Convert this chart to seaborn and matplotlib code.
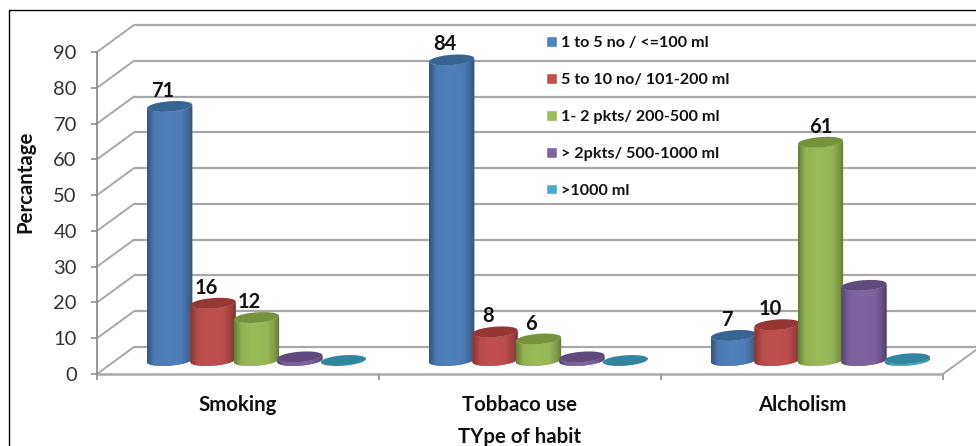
import numpy as np
import pandas as pd
import matplotlib
matplotlib.use("Agg")
import matplotlib.pyplot as plt
from matplotlib.colors import LinearSegmentedColormap, to_rgb
from matplotlib.lines import Line2D
from matplotlib.patches import Polygon
import seaborn as sns

habits = ["Smoking", "Tobbaco use", "Alcholism"]
levels = ["1 to 5 no / <=100 ml", "5 to 10 no/ 101-200 ml", "1- 2 pkts/ 200-500 ml",
          "> 2pkts/ 500-1000 ml", ">1000 ml"]
low_dose = [71, 84, 7]
mid_dose = [16, 8, 10]
high_dose = [12, 6, 61]
heavy_dose = [1, 1, 21]
extreme_dose = [0, 0, 0.5]
labelled_levels = 3
label_shift_px = {(2, 2): 0}
colours = ["#4f81bd", "#c0504d", "#9bbb59", "#8064a2", "#4bacc6"]
top_colours = ["#386494", "#953735", "#76923c", "#5f4a7e", "#31859c"]

W, H = 976, 446
AX_L, AX_R, AX_TOP, AX_BOT = 97, 943, 52, 374
PX_X = (AX_R - AX_L) / 3.0
PX_Y = (AX_BOT - AX_TOP) / 90.0
GRID = "#a8a8a8"
AXIS = "#8c8c8c"

sns.set_theme(style="white")
plt.rcParams["font.family"] = ["Lato", "DejaVu Sans"]

fig = plt.figure(figsize=(W / 100, H / 100), dpi=100)
ax = fig.add_axes([AX_L / W, 1 - AX_BOT / H, (AX_R - AX_L) / W, (AX_BOT - AX_TOP) / H])
ax.patch.set_alpha(0)

table = pd.DataFrame({
    "habit": np.tile(habits, 5),
    "level": np.repeat(levels, 3),
    "value": low_dose + mid_dose + high_dose + heavy_dose + extreme_dose,
})
sns.barplot(data=table, x="habit", y="value", hue="level", order=habits, hue_order=levels,
            palette=colours, width=0.77, errorbar=None, saturation=1, ax=ax)


def dx(px):
    return px / PX_X


def dy(px):
    return px / PX_Y


# Cylinders stand half way into the floor, which is 37 px wide and 27 px tall on screen.
MID_X, MID_Y = dx(18.5), dy(13.5)
BACK_X, BACK_Y = dx(37), dy(27)
HALF_W, HALF_H, TILT = 22.6, 5.2, 0.075


def ring(cx, cy, start, stop):
    t = np.linspace(start, stop, 60)
    x = cx + dx(HALF_W * np.cos(t))
    y = cy + dy(HALF_H * np.sin(t) + TILT * HALF_W * np.cos(t))
    return np.column_stack([x, y])


zorder = 3.0
for lvl, container in enumerate(ax.containers):
    base = np.array(to_rgb(colours[lvl]))
    ramp = LinearSegmentedColormap.from_list("shade", [
        (0.00, base * 0.66), (0.16, base * 0.95), (0.42, base),
        (0.74, base * 0.97), (0.90, base * 0.80), (1.00, base * 0.62)])
    for cat, bar in enumerate(container):
        value = bar.get_height()
        cx = bar.get_x() + bar.get_width() / 2 + MID_X
        y0, y1 = MID_Y, value + MID_Y
        bar.set_visible(False)

        outline = np.vstack([ring(cx, y0, np.pi, 2 * np.pi), ring(cx, y1, 2 * np.pi, np.pi)])
        body = Polygon(outline, closed=True, facecolor=base, edgecolor="none", zorder=zorder)
        ax.add_patch(body)
        sheen = ax.imshow(np.linspace(0, 1, 128)[None, :], cmap=ramp, aspect="auto",
                          extent=[cx - dx(HALF_W), cx + dx(HALF_W), y0 - dy(8), y1 + dy(8)],
                          zorder=zorder + 0.1, interpolation="bilinear")
        sheen.set_clip_path(body)

        cap = Polygon(ring(cx, y1, 0, 2 * np.pi), closed=True, facecolor=top_colours[lvl],
                      edgecolor="none", zorder=zorder + 0.2)
        ax.add_patch(cap)

        if lvl < labelled_levels:
            shift = label_shift_px.get((cat, lvl), -7)
            ax.text(cx + dx(shift), y1 + dy(15.5), f"{value:g}", ha="center", va="center",
                    fontsize=14.5, fontweight="bold", color="#111111", zorder=20)
        zorder += 1

ax.set_xlim(-0.5, 2.5)
ax.set_ylim(0, 90)

# Back wall, left wall and floor of the box.
for tick in np.arange(0, 91, 10):
    ax.plot([-0.5 + BACK_X, 2.5 + BACK_X], [tick + BACK_Y] * 2, color=GRID, lw=1.6,
            clip_on=False, zorder=1, solid_capstyle="butt")
    ax.plot([-0.5, -0.5 + BACK_X], [tick, tick + BACK_Y], color=GRID, lw=1.4,
            clip_on=False, zorder=1)
ax.plot([2.5, 2.5 + BACK_X], [0, BACK_Y], color=GRID, lw=1.4, clip_on=False, zorder=1)
ax.plot([-0.5, 2.5], [0, 0], color=GRID, lw=1.8, clip_on=False, zorder=2, solid_capstyle="butt")

for side in ["top", "right", "bottom"]:
    ax.spines[side].set_visible(False)
ax.spines["left"].set_color(AXIS)
ax.spines["left"].set_linewidth(1.3)

ax.set_yticks(np.arange(0, 91, 10))
ax.tick_params(axis="y", length=4.5, width=1.2, color=AXIS, left=True, pad=10,
               labelsize=14.5, labelcolor="#333333")
ax.set_xticks([-0.5, 0.5, 1.5, 2.5], minor=True)
ax.tick_params(axis="x", which="minor", length=4, width=1.2, color=AXIS, bottom=True)
ax.tick_params(axis="x", which="major", length=0, pad=15, labelsize=14.7)
for lab in ax.get_xticklabels():
    lab.set_fontweight("bold")
    lab.set_color("#111111")

ax.set_xlabel("")
ax.set_ylabel("")
fig.text(25 / W, 1 - 182 / H, "Percantage", rotation=90, ha="center", va="center",
         fontsize=14.7, fontweight="bold", color="#111111")
fig.text(520 / W, 1 - 437 / H, "TYpe of habit", ha="center", va="center",
         fontsize=14.7, fontweight="bold", color="#111111")

sns.move_legend(ax, loc="center left", bbox_to_anchor=(546 / W, 1 - 117 / H),
                bbox_transform=fig.transFigure, title=None, frameon=False, fontsize=11.6,
                handlelength=0.66, handleheight=0.66, handletextpad=0.28, labelspacing=1.41,
                borderpad=0, borderaxespad=0)
legend = ax.get_legend()
legend.set_zorder(30)
for text in legend.get_texts():
    text.set_fontweight("bold")
    text.set_color("#111111")

# Thin black frame along the top and left of the figure.
fig.add_artist(Line2D([9 / W, 9 / W, 1], [0, 1 - 10 / H, 1 - 10 / H], color="black", lw=1.0))

fig.savefig("out.png", dpi=100)
